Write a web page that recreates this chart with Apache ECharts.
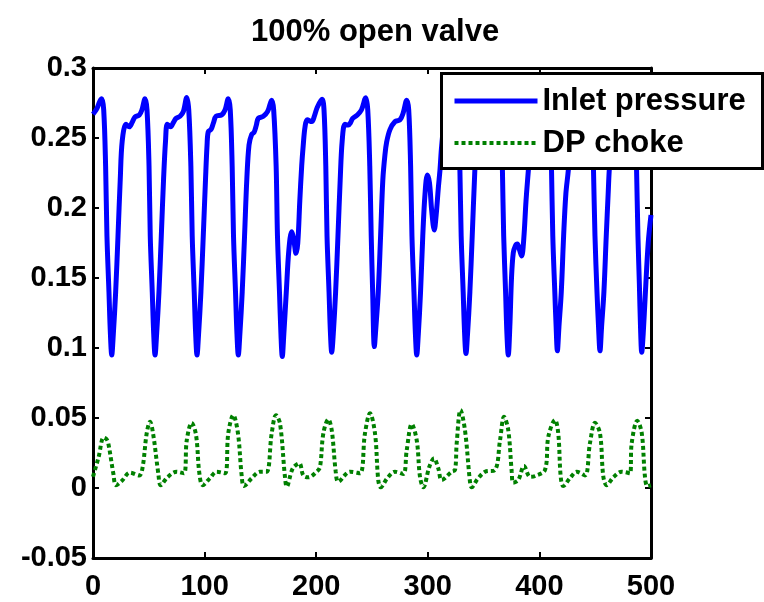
<!DOCTYPE html>
<html>
<head>
<meta charset="utf-8">
<script src="https://cdn.jsdelivr.net/npm/echarts@6/dist/echarts.min.js"></script>
<style>
html,body{margin:0;padding:0;background:#fff;}
#c{width:764px;height:602px;}
</style>
</head>
<body>
<div id="c"></div>
<script>
const titleText = '100% open valve';
const seriesNames = ['Inlet pressure', 'DP choke'];
const xTicks = [0, 100, 200, 300, 400, 500];
const yTicks = [-0.05, 0, 0.05, 0.1, 0.15, 0.2, 0.25, 0.3];

const inletPressure = [
[0,0.267],[3.5,0.271],[6,0.276],[7.8,0.278],[9.6,0.27],[11.3,0.23],[12.5,0.18],[14.3,0.14],[15.6,0.11],[16.8,0.095],
[18.2,0.11],[20.3,0.14],[22.4,0.18],[24.4,0.22],[26.2,0.248],[29.6,0.2598],[32.5,0.258],[35,0.261],[37.6,0.265],[41.5,0.2664],[43.8,0.27],[46.6,0.278],
[48.4,0.27],[50.2,0.23],[51.3,0.18],[53.1,0.14],[54.4,0.11],[55.6,0.095],
[57,0.11],[59.1,0.14],[61.2,0.18],[63.2,0.22],[65,0.248],[66.6,0.2598],[69.6,0.258],[72,0.261],[74.4,0.264],[78,0.2655],[81,0.269],[84,0.279],
[85.8,0.27],[87.7,0.23],[88.9,0.18],[90.7,0.14],[92,0.11],[93.2,0.095],
[94.6,0.11],[96.7,0.14],[98.8,0.18],[100.8,0.22],[102.2,0.245],[103.3,0.2545],[105.7,0.256],[108,0.261],[110.2,0.2655],[115.3,0.2665],[118.3,0.27],[121.2,0.278],
[123,0.27],[124.7,0.23],[125.9,0.18],[127.7,0.14],[129,0.11],[130.2,0.095],
[131.6,0.11],[133.7,0.14],[135.8,0.18],[137.8,0.22],[139.8,0.245],[142.2,0.2526],[144.3,0.254],[146.3,0.259],[148.1,0.264],[152.6,0.2655],[156.5,0.269],[160.1,0.277],
[161.9,0.27],[164.1,0.23],[165.3,0.18],[167.1,0.14],[168.4,0.11],[169.6,0.094],
[171,0.11],[173.2,0.14],[175.5,0.17],[178,0.183],[180,0.177],[181.9,0.1676],[183.5,0.175],[185.3,0.205],[187,0.23],[188.4,0.245],[190,0.258],[192,0.263],[196,0.2617],[198.5,0.266],[201,0.272],[205.3,0.2776],
[207,0.27],[208.6,0.23],[209.7,0.18],[211.5,0.14],[212.8,0.11],[213.9,0.097],
[215.3,0.11],[217.4,0.14],[219.5,0.18],[221.5,0.22],[223.3,0.248],[225.8,0.2598],[228.8,0.2592],[230.8,0.261],[232.7,0.264],[236.8,0.2664],[240.5,0.27],[244.4,0.2788],
[246.2,0.27],[248,0.23],[249.3,0.18],[250.6,0.14],[252.1,0.101],
[253.5,0.115],[255.6,0.14],[257.7,0.18],[259.7,0.22],[261.6,0.238],[263.1,0.247],[266.1,0.256],[270.6,0.2617],[275.1,0.263],[278,0.268],[281.1,0.277],
[282.9,0.27],[284.6,0.23],[285.8,0.18],[287.6,0.14],[288.9,0.11],[290.1,0.095],
[291.5,0.11],[293.5,0.14],[295.5,0.18],[297.5,0.21],[299.6,0.2236],[301.5,0.218],[303.5,0.198],[305.8,0.1843],[307.5,0.195],[309.5,0.215],[310.9,0.227],[312.5,0.245],[314.5,0.257],[318,0.262],[321.5,0.267],[325.3,0.277],
[327.1,0.27],[328.7,0.23],[329.9,0.18],[331.7,0.14],[333,0.11],[334.2,0.096],
[335.6,0.11],[337.7,0.14],[339.8,0.18],[341.8,0.22],[343.6,0.248],[346,0.258],[349,0.259],[352,0.264],[356,0.266],[360,0.27],[363.8,0.277],
[365.6,0.27],[366.8,0.23],[368,0.18],[369.7,0.14],[370.9,0.11],[372.1,0.095],
[373.5,0.115],[375,0.15],[376.6,0.168],[378.5,0.173],[380.2,0.1743],[382.2,0.17],[384.1,0.1657],[386,0.178],[388,0.205],[390.1,0.227],[391.8,0.245],[394,0.257],[397,0.261],[401,0.266],[404.5,0.27],[407.7,0.277],
[409.5,0.27],[410.8,0.23],[412,0.18],[413.8,0.14],[415,0.115],[416.1,0.098],
[417.5,0.115],[419.6,0.14],[421.7,0.18],[423.7,0.21],[425.9,0.227],[428,0.25],[431,0.258],[434,0.26],[438,0.265],[442,0.27],[445.3,0.277],
[447.1,0.27],[448.4,0.23],[449.8,0.18],[451.6,0.14],[453,0.115],[454.3,0.098],
[455.7,0.115],[457.8,0.14],[459.9,0.18],[461.6,0.21],[462.6,0.227],[464.5,0.247],[467,0.257],[471,0.26],[475,0.265],[480,0.27],[483.9,0.277],
[485.7,0.27],[487,0.23],[488.3,0.18],[489.6,0.145],[490.6,0.115],[491.7,0.097],
[493,0.11],[495,0.14],[497.5,0.175],[500,0.195]
];

const dpChoke = [
[0,0.008],[0.9,0.0105],[5,0.022],[9.5,0.036],[12,0.035],[13.7,0.032],[18.2,0.0105],[20.6,0.002],[25.7,0.005],[33.2,0.011],[41.5,0.009],[44.5,0.015],
[48.1,0.039],[51.1,0.0474],[54,0.038],[58.5,0.0105],[60.7,0.002],[66.6,0.0076],[75,0.0116],[81.5,0.0105],
[84,0.034],[88.4,0.0466],[92.3,0.038],[95.3,0.0105],[98.3,0.002],[104.8,0.007],[110.8,0.0116],[118.3,0.0105],
[121.2,0.039],[125.7,0.0521],[129.9,0.039],[133.2,0.009],[135.3,0.0014],[142.2,0.007],[149.6,0.0116],[155.6,0.0116],
[160.1,0.039],[164,0.052],[167.6,0.046],[172,0.008],[173.6,0.001],[179,0.014],[184.9,0.0176],[188.4,0.009],[192.9,0.0076],[200.4,0.0116],[203.4,0.015],
[206.4,0.039],[210.8,0.049],[213.9,0.0414],[217.5,0.0116],[219.8,0.0045],[230.3,0.0116],[239.2,0.0105],
[243.7,0.039],[248.2,0.0534],[252.7,0.039],[255.6,0.0057],[257.8,0.0005],[263.7,0.007],[270.6,0.0116],[278,0.01],
[281.1,0.027],[285.6,0.0457],[290.1,0.034],[293,0.008],[296,0.0005],[301.4,0.0152],[305.6,0.0212],[309.4,0.014],[312.5,0.0057],[321.4,0.0116],[324.4,0.0129],
[325.9,0.032],[329.3,0.0557],[333.3,0.0414],[337.8,0.0045],[339.3,0.0005],[344.4,0.0062],[351.3,0.0116],[360.2,0.0129],
[364.7,0.034],[368.3,0.0509],[372.1,0.0414],[375.2,0.0116],[376.6,0.0038],[381.1,0.0057],[386.2,0.0157],[391.6,0.008],[396.1,0.0086],[405,0.0129],
[408,0.0366],[414,0.0486],[416.9,0.039],[419.1,0.008],[421.4,0.0014],[427.4,0.007],[433.4,0.0116],[440.9,0.009],
[445.3,0.032],[449.8,0.0466],[454.3,0.039],[457.3,0.008],[460.3,0.002],[466.2,0.0076],[473.7,0.0116],[481.2,0.0105],
[482.7,0.032],[487.7,0.048],[491.7,0.0393],[494.6,0.008],[496.7,0.0014],[500,0.002]
];

const FONT = 'Liberation Sans';
const chart = echarts.init(document.getElementById('c'), null, {renderer: 'canvas'});

function fmt(v) { return String(parseFloat(Number(v).toFixed(2))); }

const axisLineStyle = {color: '#000', width: 3};
const tickCommon = {show: true, inside: true, length: 6, lineStyle: {color: '#000', width: 2}};
const labelStyle = {color: '#000', fontFamily: FONT, fontWeight: 'bold', fontSize: 29};
const hiddenSymbol = {color: 'rgba(0,0,0,0)', opacity: 0, borderWidth: 0};

chart.setOption({
  animation: false,
  backgroundColor: '#fff',
  title: {
    text: titleText, left: 246, top: 12,
    textStyle: {color: '#000', fontFamily: FONT, fontWeight: 'bold', fontSize: 31}
  },
  grid: {left: 93, right: 113, top: 68, bottom: 44},
  xAxis: [
    {type: 'value', min: xTicks[0], max: xTicks[xTicks.length - 1], interval: 100, position: 'bottom',
     axisLine: {show: true, onZero: false, lineStyle: axisLineStyle},
     axisTick: tickCommon, splitLine: {show: false},
     axisLabel: Object.assign({margin: 14, formatter: fmt}, labelStyle)},
    {type: 'value', min: xTicks[0], max: xTicks[xTicks.length - 1], interval: 100, position: 'top',
     axisLine: {show: true, onZero: false, lineStyle: axisLineStyle},
     axisTick: tickCommon, splitLine: {show: false}, axisLabel: {show: false}}
  ],
  yAxis: [
    {type: 'value', min: yTicks[0], max: yTicks[yTicks.length - 1], interval: 0.05, position: 'left',
     axisLine: {show: true, onZero: false, lineStyle: axisLineStyle},
     axisTick: tickCommon, splitLine: {show: false},
     axisLabel: Object.assign({margin: 6, formatter: fmt}, labelStyle)},
    {type: 'value', min: yTicks[0], max: yTicks[yTicks.length - 1], interval: 0.05, position: 'right',
     axisLine: {show: true, onZero: false, lineStyle: axisLineStyle},
     axisTick: tickCommon, splitLine: {show: false}, axisLabel: {show: false}}
  ],
  graphic: [{
    type: 'rect', z: 3, left: 440, top: 72,
    shape: {width: 321, height: 95},
    style: {fill: '#fff', stroke: '#000', lineWidth: 3}
  }],
  legend: {
    orient: 'vertical', left: 447, top: 78, z: 10,
    itemWidth: 83, itemHeight: 14, itemGap: 6,
    textStyle: {color: '#000', fontFamily: FONT, fontWeight: 'bold', fontSize: 31, lineHeight: 36},
    data: [
      {name: seriesNames[0], itemStyle: hiddenSymbol, lineStyle: {width: 5, color: '#0000ff', type: 'solid'}},
      {name: seriesNames[1], itemStyle: hiddenSymbol, lineStyle: {width: 4, color: '#008000', type: [4, 3]}}
    ]
  },
  series: [
    {name: seriesNames[0], type: 'line', data: inletPressure, symbol: 'none', smooth: 0.35,
     xAxisIndex: 0, yAxisIndex: 0, z: 2,
     lineStyle: {color: '#0000ff', width: 5}, itemStyle: {color: '#0000ff'}},
    {name: seriesNames[1], type: 'line', data: dpChoke, symbol: 'none', smooth: 0.35,
     xAxisIndex: 0, yAxisIndex: 0, z: 2,
     lineStyle: {color: '#008000', width: 4, type: [4, 3]}, itemStyle: {color: '#008000'}}
  ]
});
</script>
</body>
</html>
